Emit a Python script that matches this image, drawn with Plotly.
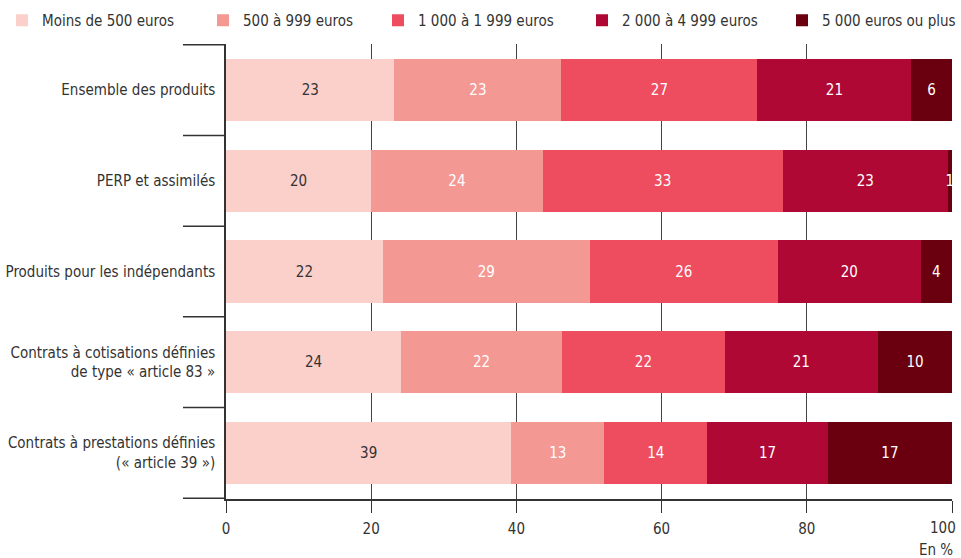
import plotly.graph_objects as go

categories = [
    "Ensemble des produits",
    "PERP et assimilés",
    "Produits pour les indépendants",
    "Contrats à cotisations définies<br>de type « article 83 »",
    "Contrats à prestations définies<br>(« article 39 »)",
]
series_names = [
    "Moins de 500 euros",
    "500 à 999 euros",
    "1 000 à 1 999 euros",
    "2 000 à 4 999 euros",
    "5 000 euros ou plus",
]
moins_500 = [23.2, 20.0, 21.6, 24.1, 39.3]
de_500_999 = [23.0, 23.6, 28.5, 22.2, 12.8]
de_1000_1999 = [27.0, 33.1, 25.9, 22.4, 14.2]
de_2000_4999 = [21.2, 22.7, 19.7, 21.1, 16.6]
plus_5000 = [5.6, 0.6, 4.3, 10.2, 17.1]
series_values = [moins_500, de_500_999, de_1000_1999, de_2000_4999, plus_5000]

colors = ["#fbcfca", "#f49894", "#ee4c5f", "#b00834", "#6a000f"]
text_colors = ["#333333", "#ffffff", "#ffffff", "#ffffff", "#ffffff"]
x_ticks = [0, 20, 40, 60, 80, 100]
x_tick_text = ["0", "20", "40", "60", "80", ""]
last_tick_label = "100"
legend_x_px = [2, 203, 378, 582, 782]

FONT = "DejaVu Sans Condensed, Liberation Sans Narrow, Roboto, sans-serif"
W, H = 961, 558
L, R, T, B = 226, 9, 44, 59
PH = H - T - B

fig = go.Figure()
legend_layouts = {}
for k, (name, vals, c, tc) in enumerate(zip(series_names, series_values, colors, text_colors)):
    lname = "legend" if k == 0 else f"legend{k + 1}"
    fig.add_trace(go.Bar(
        y=categories, x=vals, name=name, orientation="h",
        marker=dict(color=c, line=dict(width=0)),
        texttemplate="%{x:.0f}", textposition="inside",
        insidetextanchor="middle", constraintext="none",
        textfont=dict(color=tc, size=15, family=FONT),
        hoverinfo="skip", legend=lname, cliponaxis=False,
    ))
    legend_layouts[lname] = dict(
        orientation="h", xref="container", yref="container",
        x=legend_x_px[k] / W, y=1.0 - 4 / H, xanchor="left", yanchor="top",
        font=dict(size=15, color="#333333", family=FONT),
        itemclick=False, itemdoubleclick=False, bgcolor="rgba(0,0,0,0)",
    )

shapes = []
tick_frac = 43 / (W - L - R)
for i in range(len(categories) + 1):
    shapes.append(dict(type="line", xref="paper", yref="y",
                       x0=-tick_frac, x1=0, y0=i - 0.5, y1=i - 0.5,
                       line=dict(color="#333333", width=1.5)))

fig.update_layout(
    barmode="stack",
    bargap=0.31,
    width=W, height=H,
    margin=dict(l=L, r=R, t=T, b=B, autoexpand=False),
    plot_bgcolor="white", paper_bgcolor="white",
    font=dict(family=FONT, size=15, color="#333333"),
    showlegend=True,
    xaxis=dict(range=[0, 100], tickvals=x_ticks, ticktext=x_tick_text, showgrid=True,
               gridcolor="#444444", gridwidth=1, zeroline=False,
               showline=True, linecolor="#333333", linewidth=1.5,
               ticks="outside", ticklen=12, tickcolor="#333333",
               ticklabelstandoff=3,
               tickfont=dict(size=15, color="#333333"), fixedrange=True,
               automargin=False),
    yaxis=dict(autorange="reversed", showline=True, linecolor="#333333",
               linewidth=1.5, ticks="", showgrid=False, ticklabelstandoff=6,
               tickfont=dict(size=15, color="#333333"), fixedrange=True,
               automargin=False),
    shapes=shapes,
    annotations=[
        dict(text=last_tick_label, xref="x", yref="paper", x=x_ticks[-1], y=-29 / PH,
             xanchor="right", yanchor="middle", xshift=6, showarrow=False,
             font=dict(size=15, color="#333333")),
        dict(text="En %", xref="paper", yref="paper", x=1.0, y=-51 / PH,
             xanchor="right", yanchor="middle", xshift=3, showarrow=False,
             font=dict(size=15, color="#333333")),
    ],
    **legend_layouts,
)

fig.write_html(
    "out.html",
    config={"displayModeBar": False},
    post_script="document.body.style.margin='0';document.body.style.overflow='hidden';",
)
